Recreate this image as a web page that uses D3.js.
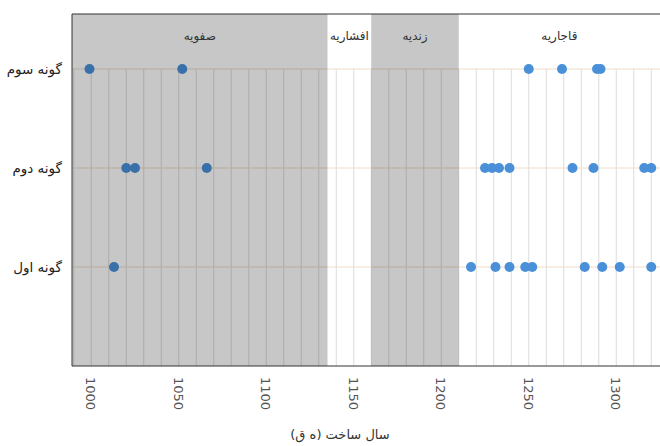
<!DOCTYPE html>
<html><head><meta charset="utf-8">
<script src="https://cdn.jsdelivr.net/npm/d3@7"></script>
<style>body{margin:0;background:#fff}svg{display:block}text{font-family:"DejaVu Sans",sans-serif}</style>
</head><body>
<svg id="c" width="660" height="446"></svg>
<script>
const categories = ["گونه اول", "گونه دوم", "گونه سوم"];
const firstType  = [1013, 1217, 1231, 1239, 1248, 1252, 1282, 1292, 1302, 1320];
const secondType = [1020, 1025, 1066, 1225, 1229, 1233, 1239, 1275, 1287, 1316, 1320];
const thirdType  = [999, 1052, 1250, 1269, 1289, 1291];
const periods = [
  {name: "صفویه", start: 985, end: 1135, shaded: true},
  {name: "افشاریه", start: 1135, end: 1160, shaded: false},
  {name: "زندیه", start: 1160, end: 1210, shaded: true},
  {name: "قاجاریه", start: 1210, end: 1344, shaded: false}
];
const tickValues = [1000, 1050, 1100, 1150, 1200, 1250, 1300];
const xTitle = "سال ساخت (ه ق)";

(function () {
const svg = d3.select("#c");
const pLeft = 72, pTop = 14, pBottom = 366, rowTop = 69, pRight = 668;
const x = d3.scaleLinear().domain([989, 1330]).range([pLeft, pLeft + (1330 - 989) * 1.75]);
const y = d3.scalePoint().domain(["", ...categories]).range([pBottom, rowTop]);

const g = svg.append("g");
g.selectAll("line.grid").data(d3.range(990, 1331, 10)).join("line")
  .attr("x1", d => x(d)).attr("x2", d => x(d))
  .attr("y1", rowTop).attr("y2", pBottom)
  .attr("stroke", "#dcdcdc").attr("stroke-width", 1);
g.selectAll("line.row").data(categories).join("line")
  .attr("x1", pLeft).attr("x2", pRight)
  .attr("y1", d => y(d)).attr("y2", d => y(d))
  .attr("stroke", "#efdccb").attr("stroke-width", 1);

const series = [[categories[0], firstType], [categories[1], secondType], [categories[2], thirdType]];
series.forEach(([cat, vals]) => {
  g.append("g").selectAll("circle").data(vals).join("circle")
    .attr("cx", d => x(d)).attr("cy", y(cat)).attr("r", 5)
    .attr("fill", "#4a90d9");
});

const clipStart = v => Math.max(x(v), pLeft);
g.append("g").selectAll("rect").data(periods.filter(p => p.shaded)).join("rect")
  .attr("x", d => clipStart(d.start)).attr("y", pTop)
  .attr("width", d => x(d.end) - clipStart(d.start)).attr("height", pBottom - pTop)
  .attr("fill", "#000").attr("opacity", 0.22);

g.append("g").selectAll("text").data(periods).join("text")
  .attr("x", d => (clipStart(d.start) + Math.min(x(d.end), 660)) / 2)
  .attr("y", 40).attr("text-anchor", "middle")
  .attr("font-size", 12).attr("fill", "#333").text(d => d.name);

g.append("line").attr("x1", pLeft).attr("x2", pRight).attr("y1", pTop).attr("y2", pTop).attr("stroke", "#333");
g.append("line").attr("x1", pLeft).attr("x2", pLeft).attr("y1", pTop).attr("y2", pBottom).attr("stroke", "#333");
g.append("line").attr("x1", pLeft).attr("x2", pRight).attr("y1", pBottom).attr("y2", pBottom).attr("stroke", "#333");

g.append("g").selectAll("text").data(categories).join("text")
  .attr("x", 62).attr("y", d => y(d)).attr("dy", "0.35em")
  .attr("text-anchor", "end").attr("font-size", 13.5).attr("fill", "#222").text(d => d);

g.append("g").selectAll("text").data(tickValues).join("text")
  .attr("transform", d => `translate(${x(d) - 5},377) rotate(90)`)
  .attr("text-anchor", "start").attr("font-size", 13).attr("fill", "#555").text(d => d);

g.append("text").attr("x", 340).attr("y", 439).attr("text-anchor", "middle")
  .attr("font-size", 13).attr("fill", "#333").text(xTitle);
})();
</script>
</body></html>
